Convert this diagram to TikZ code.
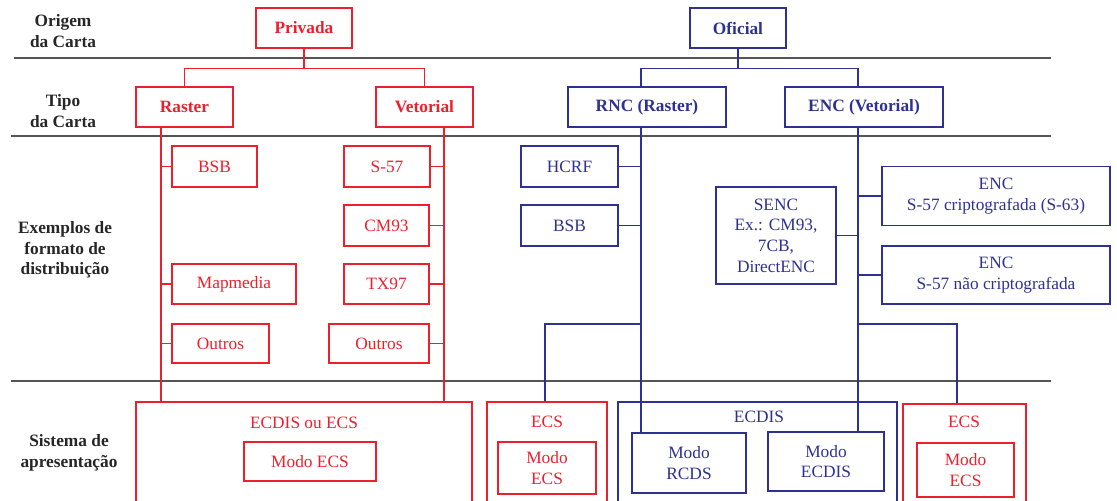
\documentclass[tikz,border=0pt]{standalone}
\usepackage{fontspec}
\setmainfont{Liberation Serif}
\definecolor{cartared}{RGB}{236,32,44}
\definecolor{cartablue}{RGB}{46,49,146}
\definecolor{rulegray}{RGB}{85,85,85}

\begin{document}
\begin{tikzpicture}[x=.75pt,y=-.75pt,
  every node/.style={font=\fontsize{13}{15.5}\selectfont,inner sep=0pt,align=center},
  wh/.style 2 args={minimum width=#1*.75pt,minimum height=#2*.75pt},
  boxtitle/.style={font=\fontsize{13}{15.5}\selectfont\bfseries},
  redbox/.style={draw=cartared,text=cartared,line width=.9pt},
  bluebox/.style={draw=cartablue,text=cartablue,line width=.9pt},
  redline/.style={draw=cartared,line width=.9pt},
  blueline/.style={draw=cartablue,line width=.9pt},
  rowline/.style={draw=rulegray,line width=1.3pt},
  rowlabel/.style={font=\fontsize{13}{15.5}\selectfont\bfseries,text=black!85}]
  \useasboundingbox (0,0) rectangle (1117,500);

  % faixas
  \draw[rowline] (14,58) -- (1051,58);
  \draw[rowline] (11,136) -- (1051,136);
  \draw[rowline] (11,381) -- (1051,381);

  \node[rowlabel] (origem) at (63,31) {Origem\\da Carta};
  \node[rowlabel] (tipo) at (63,111) {Tipo\\da Carta};
  \node[rowlabel] (exemplos) at (65,250) {Exemplos de\\formato de\\distribuição};
  \node[rowlabel] (sistema) at (69,453) {Sistema de\\apresentação};

  % carta privada
  \node[redbox,boxtitle,wh={96}{40}] (priv) at (304,28) {Privada};
  \node[redbox,boxtitle,wh={97}{40}] (rast) at (184.5,107) {Raster};
  \node[redbox,boxtitle,wh={97}{40}] (veto) at (424.5,107) {Vetorial};
  \node[redbox,wh={85}{41}] (bsbR) at (214.5,166.5) {BSB};
  \node[redbox,wh={124}{40}] (mapm) at (234,284) {Mapmedia};
  \node[redbox,wh={97}{39}] (outL) at (220.5,343.5) {Outros};
  \node[redbox,wh={86}{41}] (s57) at (387,166.5) {S-57};
  \node[redbox,wh={85}{41}] (cm93) at (386.5,225.5) {CM93};
  \node[redbox,wh={85}{40}] (tx97) at (386.5,284) {TX97};
  \node[redbox,wh={100}{39}] (outR) at (379,343.5) {Outros};
  \node[redbox,wh={336}{110}] (ecdL) at (304,457) {};
  \node[text=cartared] (ecdLt) at (304,423) {ECDIS ou ECS};
  \node[redbox,wh={132}{39}] (modoL) at (310,461.5) {Modo ECS};

  \coordinate (rasT) at (161,0);
  \coordinate (vetT) at (444,0);
  \draw[redline] (priv.south) -- ++(0,20) -| (rast.north);
  \draw[redline] (priv.south) -- ++(0,20) -| (veto.north);
  \draw[redline] (rast.south -| rasT) -- (ecdL.north -| rasT);
  \draw[redline] (veto.south -| vetT) -- (ecdL.north -| vetT);
  \foreach \n in {bsbR,mapm,outL}
    \draw[redline] (\n.west) -- (\n.west -| rasT);
  \foreach \n in {s57,cm93,tx97,outR}
    \draw[redline] (\n.east) -- (\n.east -| vetT);

  % carta oficial
  \node[bluebox,boxtitle,wh={96}{40}] (ofic) at (738,28) {Oficial};
  \node[bluebox,boxtitle,wh={158}{40}] (rnc) at (647,107) {RNC (Raster)};
  \node[bluebox,boxtitle,wh={158}{40}] (enc) at (864,107) {ENC (Vetorial)};
  \node[bluebox,wh={97}{41}] (hcrf) at (569.5,166.5) {HCRF};
  \node[bluebox,wh={97}{41}] (bsbB) at (569.5,225.5) {BSB};
  \node[bluebox,wh={120}{97}] (senc) at (776,235.5) {SENC\\Ex.: CM93,\\7CB,\\DirectENC};
  \node[bluebox,wh={228}{59}] (encC) at (996,196) {ENC\\S-57 criptografada (S-63)};
  \node[bluebox,wh={228}{58}] (encN) at (996,275) {ENC\\S-57 não criptografada};

  \node[redbox,wh={120}{110}] (ecsA) at (547,457) {};
  \node[text=cartared] (ecsAt) at (547,422) {ECS};
  \node[redbox,wh={98}{52}] (modoA) at (547,468) {Modo\\ECS};
  \node[bluebox,wh={279}{110}] (ecdis) at (757.5,457) {};
  \node[text=cartablue] (ecdist) at (759,417) {ECDIS};
  \node[bluebox,wh={114}{60}] (rcds) at (689,463) {Modo\\RCDS};
  \node[bluebox,wh={116}{59}] (mecd) at (826,461.5) {Modo\\ECDIS};
  \node[redbox,wh={123}{108}] (ecsB) at (964.5,458) {};
  \node[text=cartared] (ecsBt) at (964,422) {ECS};
  \node[redbox,wh={97}{54}] (modoB) at (965.5,470) {Modo\\ECS};

  \coordinate (rncT) at (641,0);
  \coordinate (encT) at (858,0);
  \coordinate (rncB) at (641,324);
  \coordinate (encB) at (858,324);
  \draw[blueline] (ofic.south) -- ++(0,20) -| (rnc.north -| rncT);
  \draw[blueline] (ofic.south) -- ++(0,20) -| (enc.north -| encT);
  \draw[blueline] (rnc.south -| rncT) -- (rcds.north -| rncT);
  \draw[blueline] (enc.south -| encT) -- (mecd.north -| encT);
  \foreach \n in {hcrf,bsbB}
    \draw[blueline] (\n.east) -- (\n.east -| rncT);
  \draw[blueline] (senc.east) -- (senc.east -| encT);
  \foreach \n in {encC,encN}
    \draw[blueline] (\n.west) -- (\n.west -| encT);
  \draw[blueline] (rncB) -| (ecsA.north -| 545,0);
  \draw[blueline] (encB) -| (ecsB.north -| 957,0);
\end{tikzpicture}
\end{document}
